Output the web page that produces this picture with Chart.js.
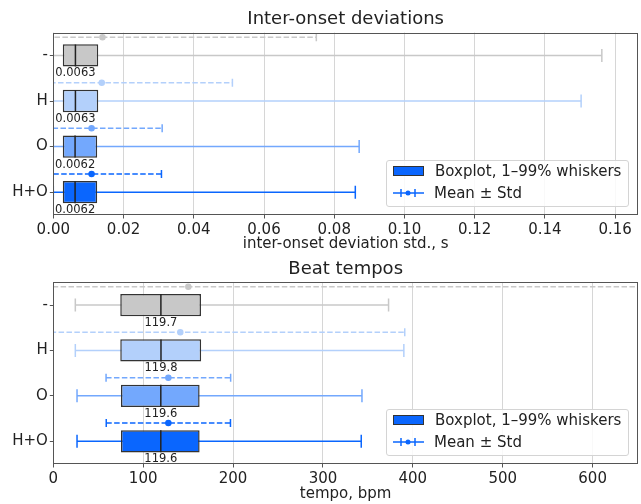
<!DOCTYPE html>
<html lang="en">
<head>
<meta charset="UTF-8">
<title>Inter-onset deviations / Beat tempos</title>
<style>
    body { margin: 0; background: #fff; font-family: "DejaVu Sans", sans-serif; }
    #page { position: relative; width: 641px; height: 504px; overflow: hidden; }
    .panel { position: absolute; left: 0; width: 641px; }
    .legend {
        position: absolute; width: 241px; height: 45px;
        border: 1px solid #d4d4d4; border-radius: 3px;
        background: rgba(255, 255, 255, 0.85);
        font-size: 15px; color: #222;
    }
    .legend .row { position: absolute; left: 6px; height: 21px; line-height: 21px; white-space: nowrap; }
    .legend .sw { display: inline-block; width: 29px; height: 8px; background: #0a66fe; border: 1px solid #333; vertical-align: middle; margin-right: 11px; position: relative; top: -1px; }
    .legend svg { vertical-align: middle; margin-right: 10px; position: relative; top: -1px; }
</style>
</head>
<body>
<div id="page">
    <div class="panel" style="top:0; height:253px;"><canvas id="ioi" width="641" height="253"></canvas></div>
    <div class="panel" style="top:253px; height:251px;"><canvas id="tempo" width="641" height="251"></canvas></div>

    <div class="legend" style="left:386px; top:160px;">
        <div class="row" style="top:0px;"><span class="sw"></span>Boxplot, 1–99% whiskers</div>
        <div class="row" style="top:22px;"><svg width="31" height="10"><line x1="0" y1="5" x2="31" y2="5" stroke="#0a66fe" stroke-width="1.5"/><line x1="8" y1="1" x2="8" y2="9" stroke="#0a66fe" stroke-width="1.5"/><line x1="22" y1="1" x2="22" y2="9" stroke="#0a66fe" stroke-width="1.5"/><circle cx="15" cy="5" r="2.5" fill="#0a66fe"/></svg>Mean ± Std</div>
    </div>
    <div class="legend" style="left:386px; top:409px;">
        <div class="row" style="top:0px;"><span class="sw"></span>Boxplot, 1–99% whiskers</div>
        <div class="row" style="top:22px;"><svg width="31" height="10"><line x1="0" y1="5" x2="31" y2="5" stroke="#0a66fe" stroke-width="1.5"/><line x1="8" y1="1" x2="8" y2="9" stroke="#0a66fe" stroke-width="1.5"/><line x1="22" y1="1" x2="22" y2="9" stroke="#0a66fe" stroke-width="1.5"/><circle cx="15" cy="5" r="2.5" fill="#0a66fe"/></svg>Mean ± Std</div>
    </div>
</div>

<script src="https://cdn.jsdelivr.net/npm/chart.js@4.4.1/dist/chart.umd.min.js"></script>
<script>
    const CATS = ['-', 'H', 'O', 'H+O'];
    const COLORS = ['#c8c8c8', '#b3d0fb', '#73a8fd', '#0a66fe'];

    // inter-onset deviation std., s
    const ioiLow = [0.0, 0.0, 0.0, 0.0];
    const ioiQ1 = [0.0027, 0.0027, 0.0027, 0.0027];
    const ioiMed = [0.0063, 0.0063, 0.0062, 0.0062];
    const ioiQ3 = [0.0128, 0.0128, 0.0125, 0.0125];
    const ioiHigh = [0.1562, 0.1503, 0.0871, 0.0860];
    const ioiMean = [0.0140, 0.0138, 0.0109, 0.0109];
    const ioiStd = [0.0609, 0.0372, 0.0201, 0.0199];

    // tempo, bpm
    const tempoLow = [24.5, 24.5, 26.4, 26.4];
    const tempoQ1 = [74.5, 74.5, 75.3, 75.3];
    const tempoMed = [119.7, 119.8, 119.6, 119.6];
    const tempoQ3 = [164.3, 164.5, 162.8, 162.8];
    const tempoHigh = [373, 390, 343.4, 342.6];
    const tempoMean = [150.2, 141.3, 128.0, 128.0];
    const tempoStd = [520, 249.7, 69.3, 69.1];

    Chart.defaults.font.family = '"DejaVu Sans", sans-serif';
    Chart.defaults.color = '#222';

    // median labels under the boxes + the frame around the plot
    const boxExtras = {
        id: 'boxExtras',
        afterDraw(chart, args, opts) {
            const {ctx, chartArea, scales} = chart;
            const x = scales.x, y = scales.y;
            const half = Math.abs(y.getPixelForValue(0.245) - y.getPixelForValue(0));
            ctx.save();
            ctx.font = '11.5px "DejaVu Sans"';
            ctx.fillStyle = '#222';
            ctx.textAlign = 'center';
            ctx.textBaseline = 'top';
            opts.medians.forEach((m, i) => {
                ctx.fillText(m.toFixed(opts.digits), x.getPixelForValue(m), y.getPixelForValue(i) + half + 1);
            });
            ctx.strokeStyle = '#555';
            ctx.lineWidth = 1;
            ctx.strokeRect(Math.round(chartArea.left) + 0.5, Math.round(chartArea.top) + 0.5,
                Math.round(chartArea.right - chartArea.left) - 1, Math.round(chartArea.bottom - chartArea.top) - 1);
            ctx.restore();
        }
    };

    function boxChart(id, s) {
        const datasets = [];
        CATS.forEach((c, i) => {
            // whisker with caps
            datasets.push({
                type: 'line', order: 3,
                data: [{x: s.low[i], y: i}, {x: s.high[i], y: i}],
                borderColor: COLORS[i], borderWidth: 1.5,
                pointStyle: 'line', pointRotation: 90, pointRadius: 6.5,
                pointBorderColor: COLORS[i], pointBorderWidth: 1.5
            });
            // mean +- std
            const yy = i - 0.4;
            datasets.push({
                type: 'line', order: 1,
                data: [{x: s.mean[i] - s.std[i], y: yy}, {x: s.mean[i], y: yy}, {x: s.mean[i] + s.std[i], y: yy}],
                borderColor: COLORS[i], borderWidth: 1.5, borderDash: [5.5, 2.4],
                pointStyle: ['line', 'circle', 'line'], pointRotation: [90, 0, 90], pointRadius: [4, 2.5, 4],
                pointBackgroundColor: COLORS[i], pointBorderColor: COLORS[i], pointBorderWidth: 1.5
            });
        });
        datasets.push({
            type: 'bar', indexAxis: 'y', order: 2,
            data: CATS.map((c, i) => ({x: [s.q1[i], s.q3[i]], y: i})),
            backgroundColor: COLORS, borderColor: '#333', borderWidth: 1.5, borderSkipped: false,
            barPercentage: 0.49, categoryPercentage: 1
        });
        datasets.push({
            type: 'line', order: 0, showLine: false,
            data: CATS.map((c, i) => ({x: s.med[i], y: i})),
            pointStyle: 'line', pointRotation: 90, pointRadius: 11,
            pointBorderColor: '#222', pointBorderWidth: 1.5
        });

        return new Chart(document.getElementById(id), {
            type: 'bar',
            data: {datasets},
            plugins: [boxExtras],
            options: {
                responsive: false,
                animation: false,
                events: [],
                layout: {autoPadding: false, padding: {left: 0, right: 3, top: 0, bottom: 0}},
                plugins: {
                    legend: {display: false},
                    tooltip: {enabled: false},
                    title: {
                        display: true, fullSize: false, text: s.title, color: '#222',
                        font: {size: 18, weight: 'normal'}, padding: s.titlePad
                    },
                    boxExtras: {medians: s.med, digits: s.digits}
                },
                scales: {
                    x: {
                        type: 'linear', min: 0, max: s.xMax, offset: false,
                        border: {display: false},
                        grid: {color: '#d6d6d6', lineWidth: 1, tickColor: '#555', tickLength: 3.5, offset: false},
                        ticks: {
                            stepSize: s.step, includeBounds: false, maxRotation: 0, autoSkip: false,
                            padding: 3, color: '#222', font: {size: 15},
                            callback: v => v.toFixed(s.digits === 4 ? 2 : 0)
                        },
                        title: {display: true, text: s.xTitle, color: '#222', font: {size: 15}, padding: {top: 0, bottom: s.xTitleBottom}},
                        afterFit: sc => { sc.height = s.xHeight; sc.paddingRight = 0; sc.paddingLeft = 0; }
                    },
                    y: {
                        type: 'linear', reverse: true, min: -0.5, max: 3.5, offset: false,
                        border: {display: false},
                        grid: {drawOnChartArea: false, tickColor: '#555', tickLength: 3.5, offset: false},
                        ticks: {padding: 2, color: '#222', font: {size: 15}, callback: v => CATS[v]},
                        afterBuildTicks: sc => { sc.ticks = CATS.map((c, i) => ({value: i})); },
                        afterFit: sc => { sc.width = 53.3; }
                    }
                }
            }
        });
    }

    boxChart('ioi', {
        title: 'Inter-onset deviations', titlePad: {top: 9, bottom: 2},
        xTitle: 'inter-onset deviation std., s', xTitleBottom: 0, xHeight: 38,
        xMax: 0.1665, step: 0.02, digits: 4,
        low: ioiLow, q1: ioiQ1, med: ioiMed, q3: ioiQ3, high: ioiHigh, mean: ioiMean, std: ioiStd
    });
    boxChart('tempo', {
        title: 'Beat tempos', titlePad: {top: 6, bottom: 1.7},
        xTitle: 'tempo, bpm', xTitleBottom: 1, xHeight: 40,
        xMax: 650.5, step: 100, digits: 1,
        low: tempoLow, q1: tempoQ1, med: tempoMed, q3: tempoQ3, high: tempoHigh, mean: tempoMean, std: tempoStd
    });
</script>
</body>
</html>
